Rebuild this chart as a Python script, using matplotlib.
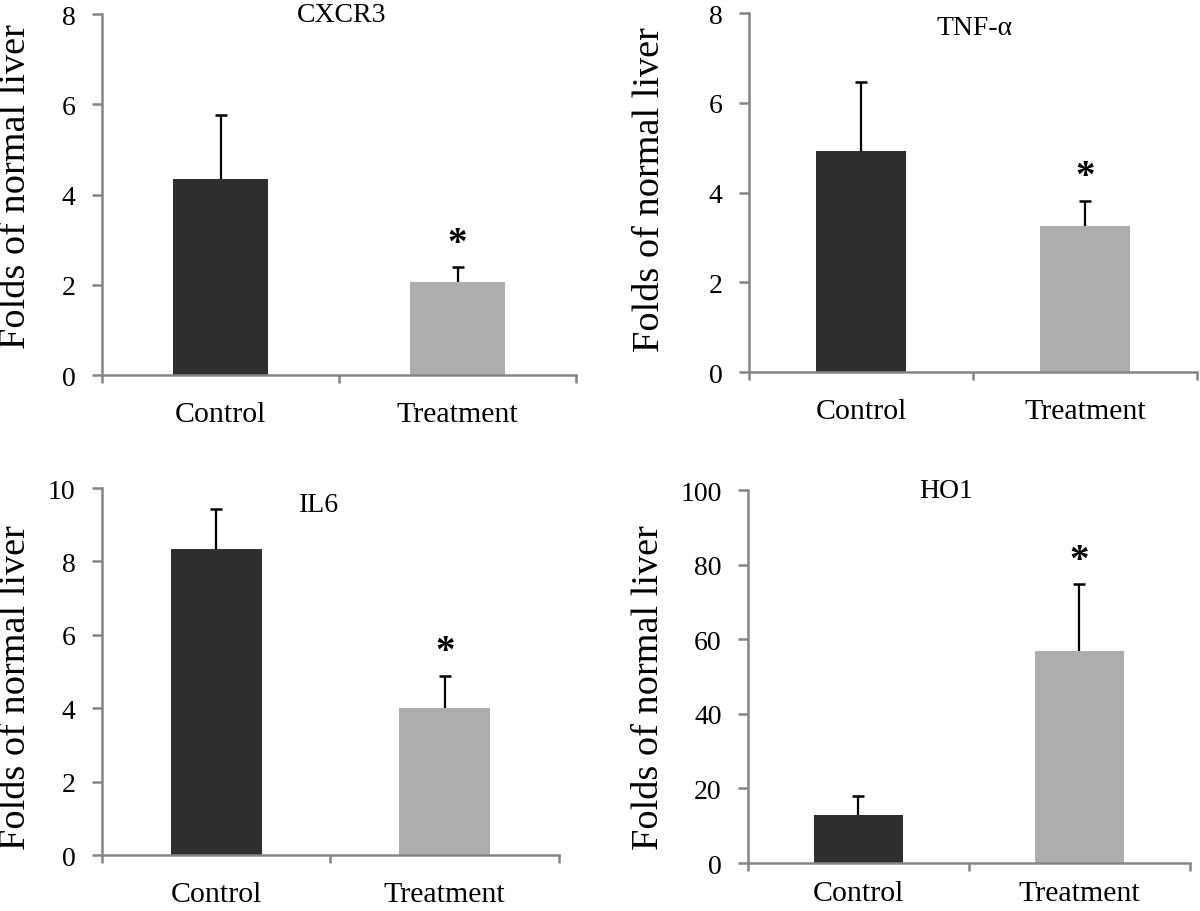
import matplotlib
matplotlib.use('Agg')
import matplotlib.pyplot as plt

plt.rcParams['font.family'] = ['Liberation Serif', 'DejaVu Serif']

# Data
groups = ['Control', 'Treatment']
genes = ['CXCR3', 'TNF-α', 'IL6', 'HO1']
means = {
    'CXCR3': [4.35, 2.07],
    'TNF-α': [4.92, 3.25],
    'IL6': [8.33, 4.01],
    'HO1': [12.9, 56.9],
}
errors = {
    'CXCR3': [1.42, 0.33],
    'TNF-α': [1.55, 0.57],
    'IL6': [1.09, 0.88],
    'HO1': [5.2, 18.0],
}
y_max = {'CXCR3': 8, 'TNF-α': 8, 'IL6': 10, 'HO1': 100}
y_step = {'CXCR3': 2, 'TNF-α': 2, 'IL6': 2, 'HO1': 20}
significant = {'CXCR3': [False, True], 'TNF-α': [False, True],
               'IL6': [False, True], 'HO1': [False, True]}

bar_colors = ['#2f2f2f', '#adadad']
axis_color = '#858585'

# panel placement: [left, bottom, width, height] in figure fraction
positions = {
    'CXCR3': [0.085, 0.5877, 0.395, 0.3958],
    'TNF-α': [0.6242, 0.591, 0.3733, 0.3936],
    'IL6': [0.085, 0.0614, 0.3808, 0.4024],
    'HO1': [0.6233, 0.0526, 0.3683, 0.409],
}
title_pos = {'CXCR3': (0.506, 0.998), 'TNF-α': (0.504, 0.961),
             'IL6': (0.475, 0.956), 'HO1': (0.448, 1.0)}
ylabel_pos = {'CXCR3': (-0.181, 0.526), 'TNF-α': (-0.221, 0.51),
              'IL6': (-0.188, 0.458), 'HO1': (-0.224, 0.472)}
label_pad = {'CXCR3': 19, 'TNF-α': 19, 'IL6': 19, 'HO1': 12}

fig = plt.figure(figsize=(12, 9.12), dpi=100)

for gene in genes:
    ax = fig.add_axes(positions[gene])
    x = range(len(groups))
    ax.bar(x, means[gene], width=0.4, color=bar_colors, zorder=2)
    # error bars sit behind the bars so only the upper half shows
    ax.errorbar(x, means[gene], yerr=errors[gene], fmt='none', ecolor='black',
                elinewidth=1.6, capsize=4.2, capthick=1.8, zorder=1)

    for i, sig in enumerate(significant[gene]):
        if sig:
            ax.annotate('*', xy=(i, means[gene][i] + errors[gene][i]),
                        xytext=(0, 17), textcoords='offset points',
                        ha='center', va='center', fontsize=28, fontweight='bold')

    ax.set_xlim(-0.5, 1.5)
    ax.set_ylim(0, y_max[gene])
    ax.set_yticks(range(0, y_max[gene] + 1, y_step[gene]))

    # category boundary ticks (unlabelled) and centred labels
    ax.set_xticks([-0.5, 0.5, 1.5])
    ax.set_xticklabels([])
    ax.set_xticks([0, 1], minor=True)
    ax.set_xticklabels(groups, minor=True, fontsize=21.5)
    ax.tick_params(axis='x', which='minor', length=0, pad=label_pad[gene])
    ax.tick_params(axis='x', which='major', length=6, width=1.8,
                   color=axis_color, direction='out')
    ax.tick_params(axis='y', length=7, width=1.8, color=axis_color,
                   direction='out', pad=12, labelsize=20)

    for side in ['top', 'right']:
        ax.spines[side].set_visible(False)
    for side in ['left', 'bottom']:
        ax.spines[side].set_color(axis_color)
        ax.spines[side].set_linewidth(1.8)

    tx, ty = title_pos[gene]
    ax.text(tx, ty, gene, transform=ax.transAxes, ha='center', va='center',
            fontsize=20)
    lx, ly = ylabel_pos[gene]
    ax.text(lx, ly, 'Folds of normal liver', transform=ax.transAxes,
            rotation=90, ha='center', va='center', fontsize=27.5)

plt.savefig('out.png', dpi=100)
